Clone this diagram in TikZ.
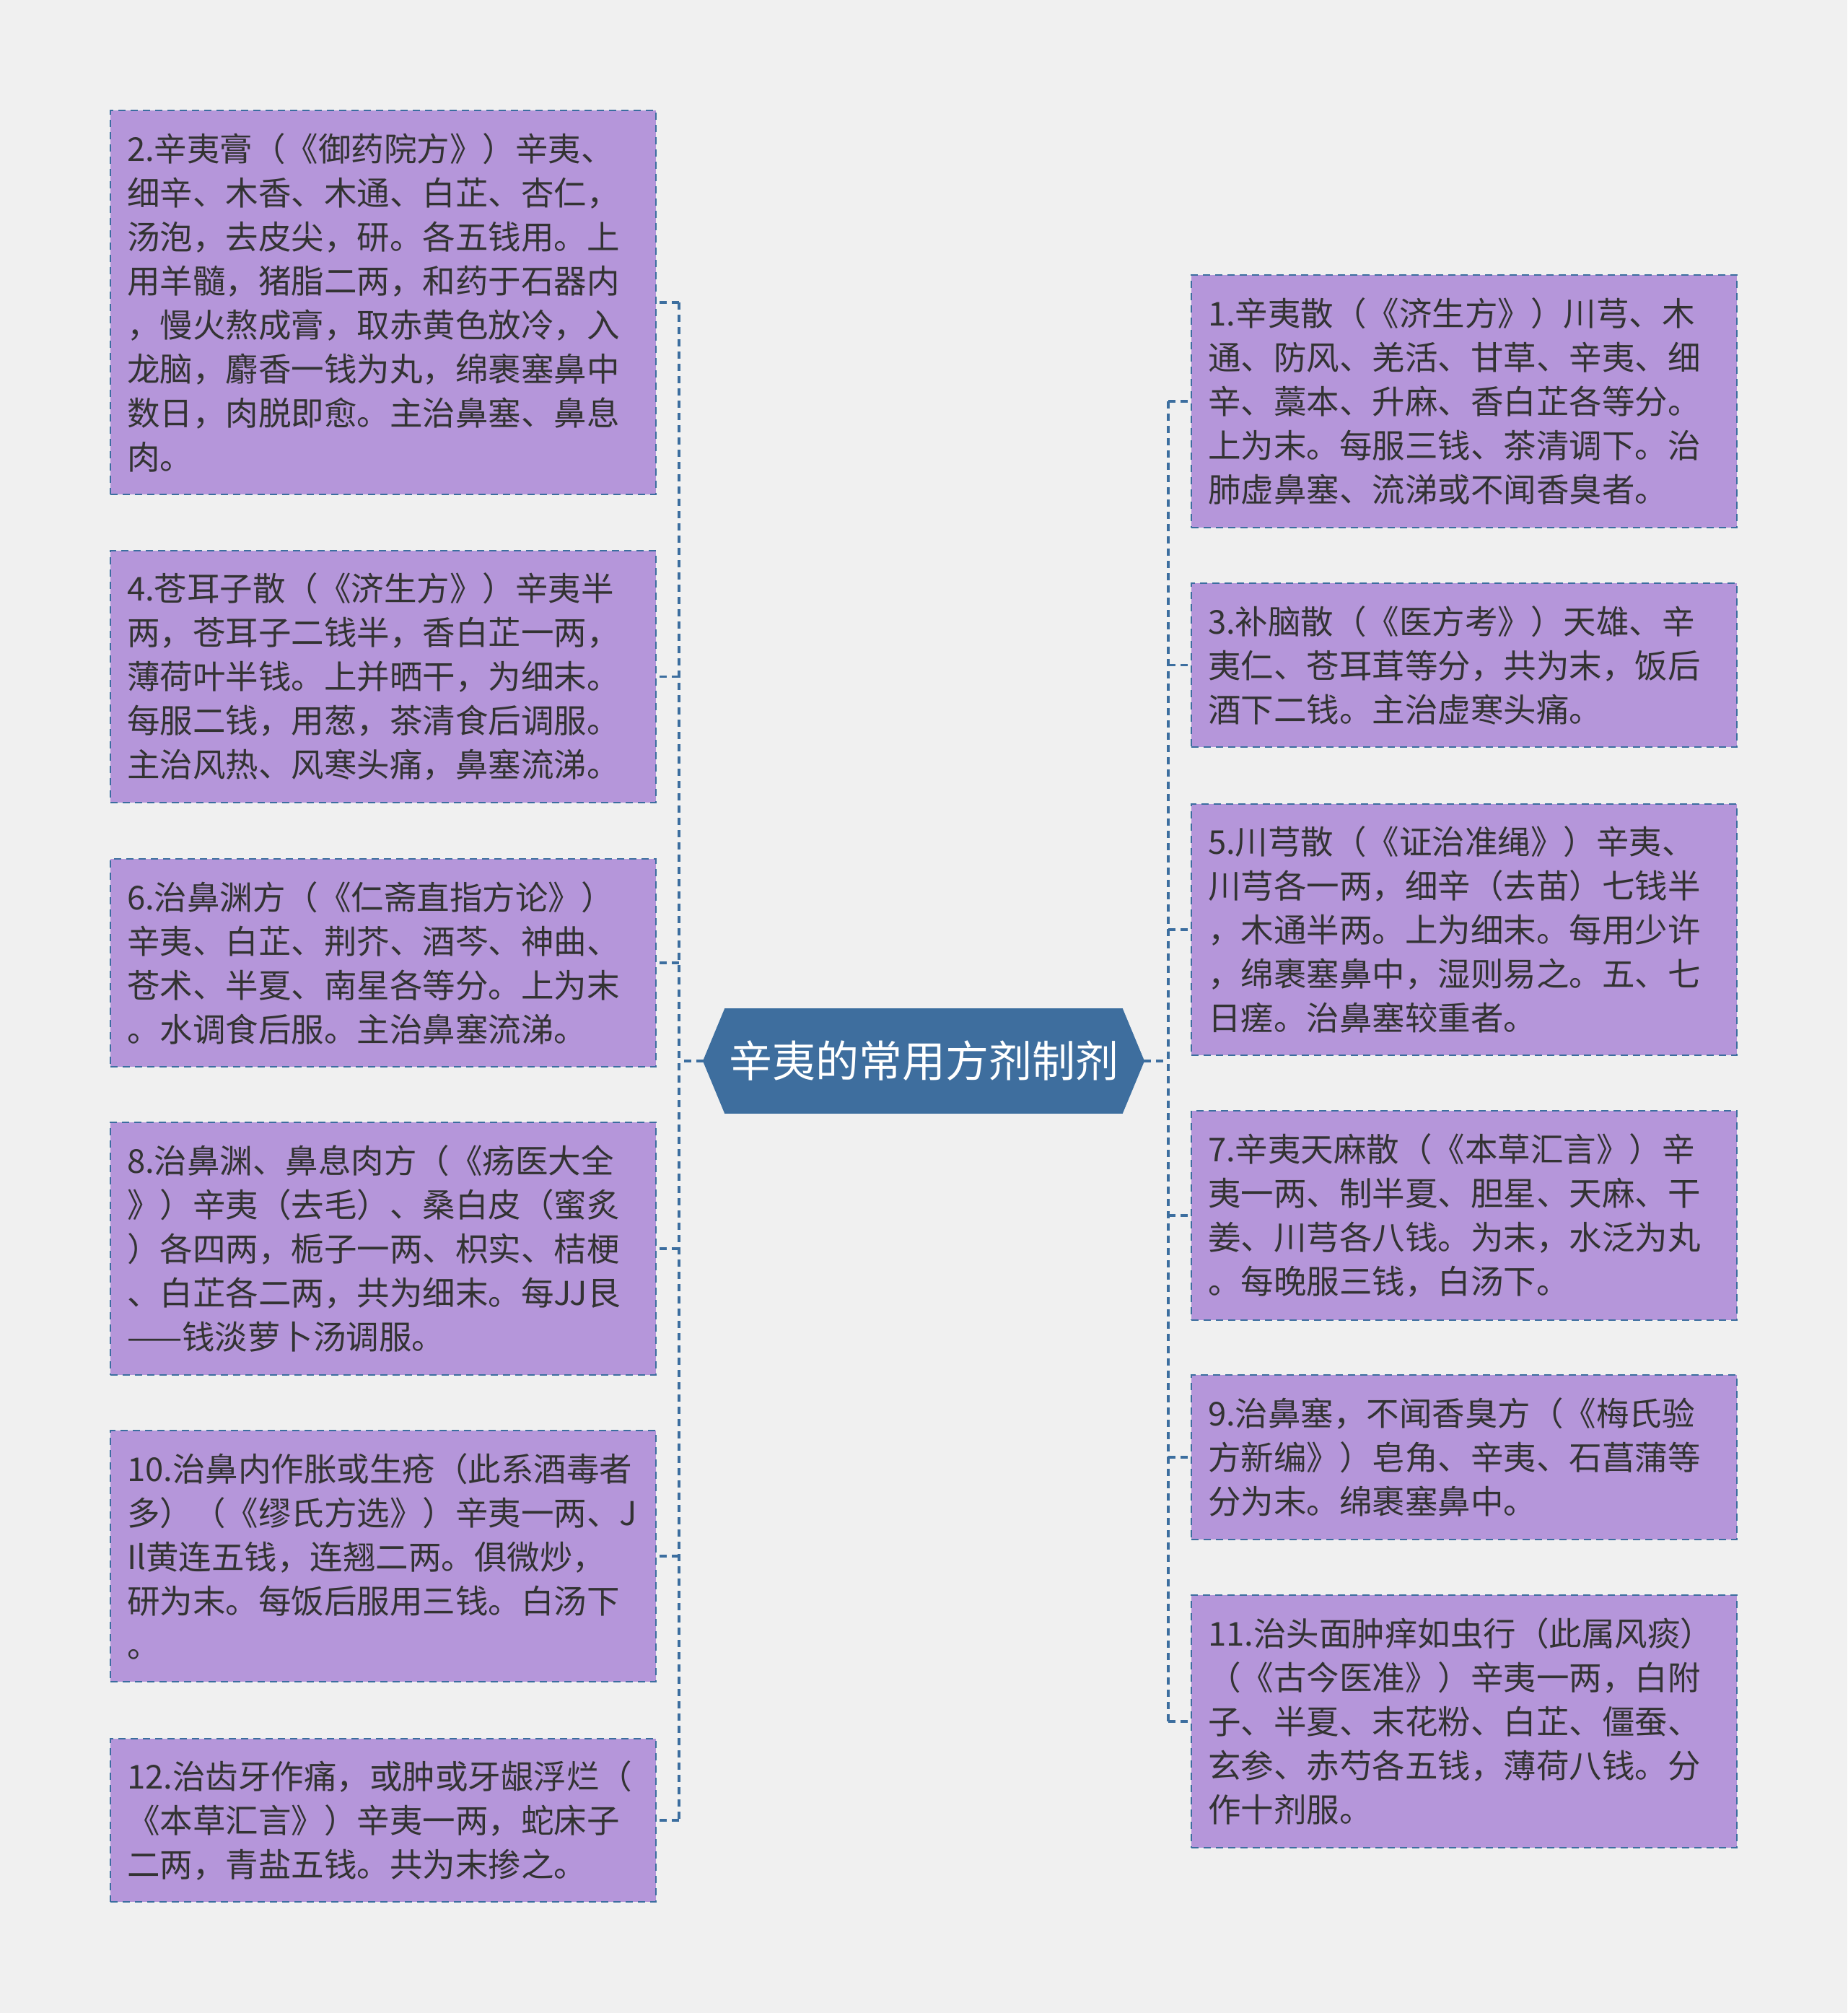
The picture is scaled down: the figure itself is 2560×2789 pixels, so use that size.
\documentclass[tikz,border=0pt]{standalone}
\usepackage{fontspec}
\setmainfont{Noto Sans CJK SC}
\usetikzlibrary{calc}
\definecolor{bgcol}{HTML}{F0F0F0}
\definecolor{boxfill}{HTML}{B596DA}
\definecolor{boxline}{HTML}{3C6E9F}
\definecolor{cfill}{HTML}{3E6E9E}
\definecolor{txt}{HTML}{333333}
\tikzset{
  itembox/.style={draw=boxline, fill=boxfill, line width=2.5pt, dash pattern=on 10pt off 7pt,
    rectangle, minimum width=756pt, inner xsep=23pt, inner ysep=0pt, text width=710pt,
    align=left, text=txt, font=\fontsize{45.5pt}{61pt}\selectfont},
  conn/.style={draw=boxline, line width=3.5pt, dash pattern=on 10pt off 7pt},
  ctext/.style={text=white, font=\fontsize{60pt}{72pt}\selectfont, inner sep=0pt}
}
\begin{document}
\begin{tikzpicture}[x=1pt,y=-1pt]
\fill[bgcol] (0,0) rectangle (2560,2789);
\useasboundingbox (0,0) rectangle (2560,2789);

% center
\path (1280,1470) node[minimum width=610pt, minimum height=144pt, inner sep=0pt] (c) {};
\fill[cfill, draw=boxline, line width=1.5pt] (c.west) -- ([xshift=30pt]c.north west) -- ([xshift=-30pt]c.north east)
  -- (c.east) -- ([xshift=-30pt]c.south east) -- ([xshift=30pt]c.south west) -- cycle;
\node[ctext] (ct) at (c) {辛夷的常用方剂制剂};

% left boxes
\node[itembox, minimum height=532pt] (b2) at (531,419) {2.辛夷膏（《御药院方》）辛夷、\\细辛、木香、木通、白芷、杏仁，\\汤泡，去皮尖，研。各五钱用。上\\用羊髓，猪脂二两，和药于石器内\\，慢火熬成膏，取赤黄色放冷，入\\龙脑，麝香一钱为丸，绵裹塞鼻中\\数日，肉脱即愈。主治鼻塞、鼻息\\肉。};
\node[itembox, minimum height=349pt] (b4) at (531,937.5) {4.苍耳子散（《济生方》）辛夷半\\两，苍耳子二钱半，香白芷一两，\\薄荷叶半钱。上并晒干，为细末。\\每服二钱，用葱，茶清食后调服。\\主治风热、风寒头痛，鼻塞流涕。};
\node[itembox, minimum height=288pt] (b6) at (531,1334) {6.治鼻渊方（《仁斋直指方论》）\\辛夷、白芷、荆芥、酒芩、神曲、\\苍术、半夏、南星各等分。上为末\\。水调食后服。主治鼻塞流涕。};
\node[itembox, minimum height=350pt] (b8) at (531,1730) {8.治鼻渊、鼻息肉方（《疡医大全\\》）辛夷（去毛）、桑白皮（蜜炙\\）各四两，栀子一两、枳实、桔梗\\、白芷各二两，共为细末。每JJ艮\\——钱淡萝卜汤调服。};
\node[itembox, minimum height=348pt] (b10) at (531,2156) {10.治鼻内作胀或生疮（此系酒毒者\\多）（《缪氏方选》）辛夷一两、J\\Il黄连五钱，连翘二两。俱微炒，\\研为末。每饭后服用三钱。白汤下\\。};
\node[itembox, minimum height=226pt] (b12) at (531,2522) {12.治齿牙作痛，或肿或牙龈浮烂（\\《本草汇言》）辛夷一两，蛇床子\\二两，青盐五钱。共为末掺之。};

% right boxes
\node[itembox, minimum height=350pt] (b1) at (2029,556) {1.辛夷散（《济生方》）川芎、木\\通、防风、羌活、甘草、辛夷、细\\辛、藁本、升麻、香白芷各等分。\\上为末。每服三钱、茶清调下。治\\肺虚鼻塞、流涕或不闻香臭者。};
\node[itembox, minimum height=227pt] (b3) at (2029,921.5) {3.补脑散（《医方考》）天雄、辛\\夷仁、苍耳茸等分，共为末，饭后\\酒下二钱。主治虚寒头痛。};
\node[itembox, minimum height=348pt] (b5) at (2029,1288) {5.川芎散（《证治准绳》）辛夷、\\川芎各一两，细辛（去苗）七钱半\\，木通半两。上为细末。每用少许\\，绵裹塞鼻中，湿则易之。五、七\\日瘥。治鼻塞较重者。};
\node[itembox, minimum height=290pt] (b7) at (2029,1684) {7.辛夷天麻散（《本草汇言》）辛\\夷一两、制半夏、胆星、天麻、干\\姜、川芎各八钱。为末，水泛为丸\\。每晚服三钱，白汤下。};
\node[itembox, minimum height=228pt] (b9) at (2029,2019) {9.治鼻塞，不闻香臭方（《梅氏验\\方新编》）皂角、辛夷、石菖蒲等\\分为末。绵裹塞鼻中。};
\node[itembox, minimum height=350pt] (b11) at (2029,2385) {11.治头面肿痒如虫行（此属风痰）\\（《古今医准》）辛夷一两，白附\\子、半夏、末花粉、白芷、僵蚕、\\玄参、赤芍各五钱，薄荷八钱。分\\作十剂服。};

% connectors
\coordinate (tl) at (941,1470);
\coordinate (tr) at (1619,1470);
\draw[conn] (c.west) -- (tl);
\draw[conn] (c.east) -- (tr);
\draw[conn] (tl |- b2.east) -- (tl |- b12.east);
\draw[conn] (tr |- b1.west) -- (tr |- b11.west);
\foreach \b in {b2,b4,b6,b8,b10,b12} {\draw[conn] (tl |- \b.east) -- (\b.east);}
\foreach \b in {b1,b3,b5,b7,b9,b11} {\draw[conn] (tr |- \b.west) -- (\b.west);}
\end{tikzpicture}
\end{document}
